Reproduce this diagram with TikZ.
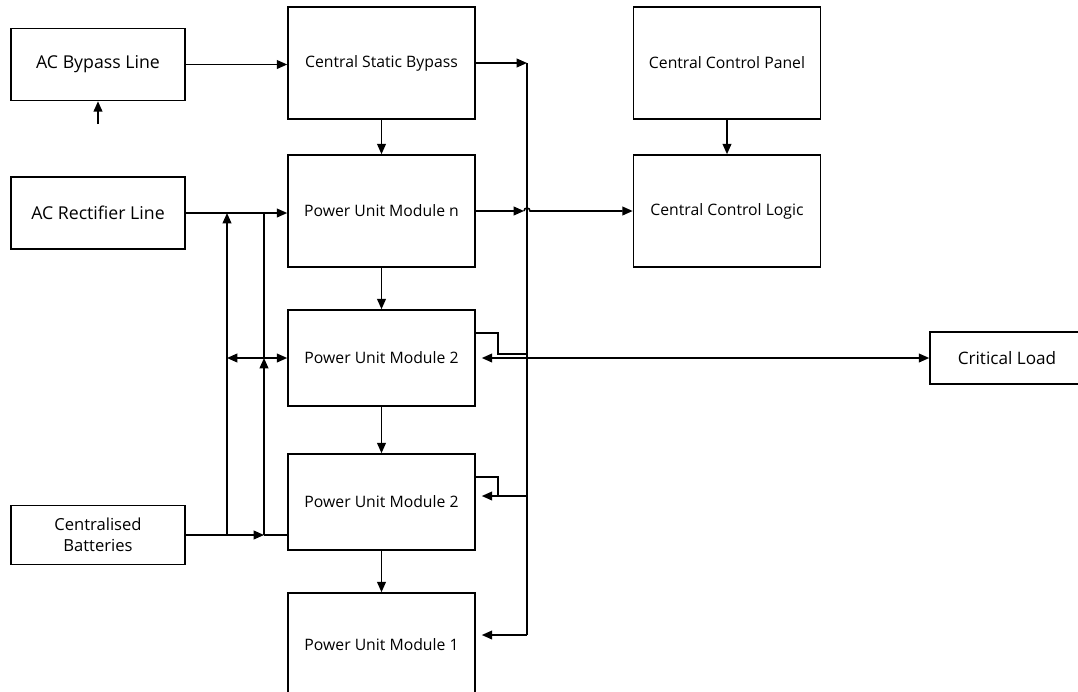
\documentclass[tikz,border=0pt]{standalone}
\usepackage{fontspec}
\setmainfont{Open Sans}
\usetikzlibrary{calc,positioning,arrows.meta}
\tikzset{
  unit box/.style={
    draw,rectangle,
    line width=1.1pt,
    minimum width=4.675cm,
    minimum height=2.8cm,
    font=\fontsize{11.2}{13}\selectfont
  },
  line box/.style={
    draw,rectangle,
    line width=1.1pt,
    minimum width=4.35cm,
    minimum height=1.8cm,
    align=center,
    font=\fontsize{12.6}{15}\selectfont
  },
  feed/.style={line width=1.1pt},
  arr/.style={feed,-{Triangle[length=0.26cm,width=0.22cm]}},
  twoway/.style={feed,{Triangle[length=0.26cm,width=0.22cm]}-{Triangle[length=0.26cm,width=0.22cm]}}
}

\begin{document}
\begin{tikzpicture}[x=0.025cm,y=-0.025cm]
  \useasboundingbox (0,0) rectangle (1078,691);
  \clip (0,0) rectangle (1078,691);

  \node[unit box] (csb) at (381.5,63) {Central Static Bypass};
  \node[unit box] (pumn) at (381.5,211) {Power Unit Module n};
  \node[unit box,minimum height=2.4cm] (pum2a) at (381.5,358) {Power Unit Module 2};
  \node[unit box,minimum height=2.4cm] (pum2b) at (381.5,502) {Power Unit Module 2};
  \node[unit box,minimum height=2.6cm] (pum1) at (381.5,645) {Power Unit Module 1};
  \node[unit box] (ccp) at (727,63) {Central Control Panel};
  \node[unit box] (ccl) at (727,211) {Central Control Logic};

  \node[line box] (bypass) at (98,64.5) {AC Bypass Line};
  \node[line box] (rect) at (98,213) {AC Rectifier Line};
  \node[line box,minimum height=1.475cm,font=\fontsize{11.8}{15}\selectfont] (batt) at (98,535) {Centralised\\Batteries};
  \node[line box,minimum width=3.85cm,minimum height=1.3cm,font=\fontsize{12.2}{15}\selectfont] (load) at (1007,358) {Critical Load};

  % bypass and bus on the right
  \coordinate (bypassin) at (98,124);
  \coordinate (bustop) at (527,63);
  \coordinate (busbot) at (527,635);
  \coordinate (hop) at (524,211);
  \draw[arr] (bypassin) -- (bypass.south);
  \draw[arr] (bypass.east) -- (bypass.east -| csb.west);
  \draw[arr] (csb.east) -- (bustop);
  \draw[feed] (bustop) -- (busbot);
  \draw[arr,shorten >=0.15cm] (busbot) -- (busbot -| pum1.east);

  \draw[arr] (csb) -- (pumn);
  \draw[arr] (pumn) -- (pum2a);
  \draw[arr] (pum2a) -- (pum2b);
  \draw[arr] (pum2b) -- (pum1);
  \draw[arr] (ccp) -- (ccl);

  \draw[arr] (pumn.east) -- (hop);
  \draw[arr] (hop) arc[start angle=180,end angle=360,radius=3] -- (ccl.west);

  % feedback from the modules
  \draw[twoway,shorten <=0.15cm] (pum2a.east) -- (load.west);
  \draw[feed] ($(pum2a.east)+(0,-25)$) -- ++(22,0) |- ($(pum2a.east -| bustop)+(0,-4)$);
  \coordinate (fb2) at ($(pum2b.east -| bustop)+(0,-6)$);
  \draw[arr,shorten >=0.15cm] (fb2) -- (fb2 -| pum2b.east);
  \draw[feed] ($(pum2b.east)+(0,-25)$) -- ++(22,0) -- ++(0,19);

  % rectifier and batteries
  \coordinate (battA) at (227,535);
  \coordinate (battB) at (264,535);
  \draw[arr] (rect.east) -- (rect.east -| pumn.west);
  \draw[arr] (batt.east) -- (battB);
  \draw[feed] (battB) -- (battB -| pum2b.west);
  \draw[arr] (battA) -- (battA |- rect.east);
  \draw[arr] (battB) -- (battB |- pum2a.west);
  \draw[feed] (battB |- pum2a.west) -- (battB |- rect.east);
  \draw[twoway] (battA |- pum2a.west) -- (pum2a.west);
\end{tikzpicture}
\end{document}
